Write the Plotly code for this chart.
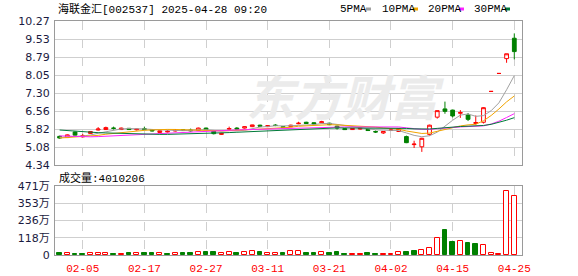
import plotly.graph_objects as go
import pandas as pd

dates = ["01-23", "01-24", "01-27",
         "02-05", "02-06", "02-07", "02-10", "02-11", "02-12", "02-13", "02-14",
         "02-17", "02-18", "02-19", "02-20", "02-21", "02-24", "02-25", "02-26", "02-27", "02-28",
         "03-03", "03-04", "03-05", "03-06", "03-07", "03-10", "03-11", "03-12", "03-13", "03-14",
         "03-17", "03-18", "03-19", "03-20", "03-21", "03-24", "03-25", "03-26", "03-27", "03-28", "03-31",
         "04-01", "04-02", "04-03", "04-07", "04-08", "04-09", "04-10", "04-11",
         "04-14", "04-15", "04-16", "04-17", "04-18", "04-21", "04-22", "04-23", "04-24", "04-25"]

opens = [5.52, 5.47, 5.70, 5.50, 5.64, 5.78, 5.80, 5.86, 5.80, 5.85,
         5.79, 5.84, 5.80, 5.68, 5.70, 5.74, 5.80, 5.78, 5.76, 5.86,
         5.74, 5.60, 5.82, 5.86, 5.86, 5.92, 5.98, 5.92, 5.98, 5.92,
         5.92, 6.04, 6.10, 6.08, 6.08, 6.06, 5.94, 5.84, 5.80, 5.82,
         5.80, 5.72, 5.66, 5.76, 5.72, 5.51, 5.18, 5.09, 5.60, 6.31,
         6.65, 6.60, 6.47, 6.40, 6.05, 6.10, 7.37, 8.11, 8.72, 9.56]
highs = [5.55, 5.60, 5.72, 5.62, 5.74, 5.90, 5.92, 5.92, 5.88, 5.86,
         5.84, 5.92, 5.82, 5.76, 5.78, 5.82, 5.82, 5.84, 5.88, 5.88,
         5.76, 5.66, 5.92, 5.90, 5.94, 6.00, 6.00, 5.98, 6.02, 5.94,
         6.00, 6.12, 6.12, 6.10, 6.16, 6.08, 5.96, 5.86, 5.86, 5.88,
         5.82, 5.76, 5.74, 5.84, 5.86, 5.55, 5.34, 5.46, 6.00, 6.58,
         6.95, 6.62, 6.60, 6.48, 6.38, 6.72, 7.37, 8.11, 8.92, 9.76]
lows = [5.42, 5.45, 5.55, 5.48, 5.62, 5.76, 5.79, 5.80, 5.78, 5.78,
        5.76, 5.78, 5.72, 5.66, 5.68, 5.72, 5.74, 5.72, 5.74, 5.78,
        5.60, 5.58, 5.80, 5.80, 5.84, 5.90, 5.92, 5.90, 5.94, 5.86,
        5.90, 6.02, 6.04, 6.02, 6.06, 5.98, 5.80, 5.78, 5.78, 5.80,
        5.74, 5.66, 5.62, 5.74, 5.70, 5.24, 5.04, 4.88, 5.55, 6.25,
        6.45, 6.30, 6.28, 6.15, 6.00, 6.05, 7.37, 8.11, 8.55, 8.69]
closes = [5.45, 5.58, 5.57, 5.55, 5.72, 5.82, 5.88, 5.85, 5.86, 5.80,
          5.82, 5.80, 5.74, 5.75, 5.73, 5.80, 5.76, 5.75, 5.86, 5.80,
          5.63, 5.64, 5.84, 5.82, 5.92, 5.99, 5.94, 5.96, 5.97, 5.88,
          5.98, 6.06, 6.05, 6.03, 6.12, 6.00, 5.86, 5.80, 5.84, 5.85,
          5.76, 5.70, 5.72, 5.78, 5.84, 5.26, 5.20, 5.44, 5.98, 6.58,
          6.55, 6.36, 6.50, 6.22, 6.09, 6.70, 7.37, 8.11, 8.92, 9.01]
# closes before the visible window (used only for the moving averages)
prior_closes = [6.35, 6.30, 6.28, 6.32, 6.25, 6.20, 6.22, 6.25, 6.18, 6.25,
                5.90, 5.85, 5.78, 5.70, 5.62, 5.55, 5.50, 5.48, 5.52, 5.40,
                5.42, 5.38, 5.40, 5.45, 5.48, 5.42, 5.50, 5.48, 5.52]
volumes_wan = [14, 14, 7, 7, 11, 11, 11, 7, 5, 11,
               11, 11, 11, 11, 7, 11, 11, 14, 18, 20,
               20, 11, 18, 14, 20, 25, 20, 14, 14, 14,
               25, 25, 14, 14, 18, 14, 20, 7, 7, 7,
               14, 7, 7, 7, 20, 20, 27, 34, 48, 114,
               171, 89, 93, 82, 75, 68, 14, 7, 435, 401]
last_volume = 4010206

price_ticks = ["4.34", "5.08", "5.82", "6.56", "7.30", "8.05", "8.79", "9.53", "10.27"]
vol_ticks = ["0", "118万", "236万", "353万", "471万"]
label_dates = ["02-05", "02-17", "02-27", "03-11", "03-21", "04-02", "04-15", "04-25"]
ma_periods = [5, 10, 20, 30]
ma_names = ["5PMA", "10PMA", "20PMA", "30PMA"]
ma_colors = ["#a0a0a0", "#f2a400", "#ff22ff", "#007a3a"]

RED = "#ff0000"
GREEN = "#008000"

n = len(dates)
xs = list(range(n))
all_close = pd.Series(prior_closes + closes)
prev_close = [prior_closes[-1]] + closes[:-1]
vols = [v * 1e4 for v in volumes_wan]
vols[-1] = last_volume

W, H = 578, 276
L, R, T, B = 55, 522, 21, 255
pw, ph = R - L, B - T


def px(xp):
    return (xp - L) / pw


def py(yp):
    return (B - yp) / ph


price_dom = [py(165), 1.0]
vol_dom = [0.0, py(186)]

fig = go.Figure()

fig.add_trace(go.Candlestick(
    x=xs, open=opens, high=highs, low=lows, close=closes,
    increasing=dict(line=dict(color=RED, width=1), fillcolor="#ffffff"),
    decreasing=dict(line=dict(color=GREEN, width=1), fillcolor=GREEN),
    whiskerwidth=0, xaxis="x", yaxis="y", showlegend=False, hoverinfo="skip"))

for p, c in zip(ma_periods, ma_colors):
    ma = all_close.rolling(p).mean().iloc[-n:].tolist()
    fig.add_trace(go.Scatter(x=xs, y=ma, mode="lines", line=dict(color=c, width=1),
                             xaxis="x", yaxis="y", showlegend=False, hoverinfo="skip"))

up = [c >= pc for c, pc in zip(closes, prev_close)]
fig.add_trace(go.Bar(
    x=xs, y=vols, width=0.62,
    marker=dict(color=["#ffffff" if u else GREEN for u in up],
                line=dict(color=[RED if u else GREEN for u in up], width=1)),
    xaxis="x2", yaxis="y2", showlegend=False, hoverinfo="skip"))

label_idx = [dates.index(d) for d in label_dates]
pmin, pmax = 4.34, 10.27
pstep = (pmax - pmin) / 8
vmax = 4.71e6

grid = "#cfcfcf"
border = "#9a9a9a"
tickfont = dict(family="DejaVu Sans, Noto Sans CJK SC", size=11, color="#1a1a40")

common_axis = dict(automargin=False, showline=True, linecolor=border, linewidth=1,
                   mirror=True, zeroline=False, showgrid=True, gridcolor=grid, gridwidth=1,
                   ticks="", fixedrange=True)

fig.update_layout(
    width=W, height=H,
    margin=dict(l=L, r=W - R, t=T, b=H - B, pad=0, autoexpand=False),
    paper_bgcolor="#ffffff", plot_bgcolor="#ffffff",
    showlegend=False, bargap=0,
    xaxis=dict(domain=[0, 1], range=[-0.6, 60], anchor="y",
               tickvals=label_idx, showticklabels=False, griddash="dash",
               rangeslider=dict(visible=False), **common_axis),
    yaxis=dict(domain=price_dom, range=[pmin, pmax], anchor="x",
               tickvals=[pmin + k * pstep for k in range(9)], ticktext=price_ticks,
               tickfont=tickfont, ticklabelstandoff=2, **common_axis),
    xaxis2=dict(domain=[0, 1], range=[-0.6, 60], anchor="y2", matches="x",
                tickvals=label_idx, ticktext=label_dates, griddash="dash",
                tickfont=dict(family="Liberation Mono", size=11, color=RED),
                ticklabelstandoff=3, **common_axis),
    yaxis2=dict(domain=vol_dom, range=[0, vmax], anchor="x2",
                tickvals=[k * vmax / 4 for k in range(5)], ticktext=vol_ticks,
                tickfont=tickfont, ticklabelstandoff=2, **common_axis),
)

# watermark
fig.add_annotation(xref="paper", yref="paper", x=px(345), y=py(95), text="<b><i>东方财富</i></b>",
                   showarrow=False, font=dict(family="Noto Sans CJK SC", size=48, color="#ebebeb"),
                   xanchor="center", yanchor="middle")

# title
fig.add_annotation(xref="paper", yref="paper", x=px(56), y=py(9), xanchor="left", yanchor="middle",
                   text="海联金汇[002537] 2025-04-28 09:20", showarrow=False,
                   font=dict(family="Liberation Mono, Noto Sans CJK SC", size=11, color="#000000"))

# MA legend
leg_text_x = [338, 380, 426, 472]
leg_mark_x = [366, 413, 459, 505]
for name, col, tx, mx in zip(ma_names, ma_colors, leg_text_x, leg_mark_x):
    fig.add_annotation(xref="paper", yref="paper", x=px(tx), y=py(9), xanchor="left", yanchor="middle",
                       text=name, showarrow=False,
                       font=dict(family="Liberation Mono", size=11, color="#000000"))
    fig.add_shape(type="rect", xref="paper", yref="paper", x0=px(mx), x1=px(mx + 5),
                  y0=py(10.5), y1=py(7.5), fillcolor=col, line=dict(width=0), layer="above")

# volume label
fig.add_annotation(xref="paper", yref="paper", x=px(57), y=py(178), xanchor="left", yanchor="middle",
                   text="成交量:" + str(last_volume), showarrow=False,
                   font=dict(family="Liberation Mono, Noto Sans CJK SC", size=11, color="#000000"))

fig.write_html("out.html")
